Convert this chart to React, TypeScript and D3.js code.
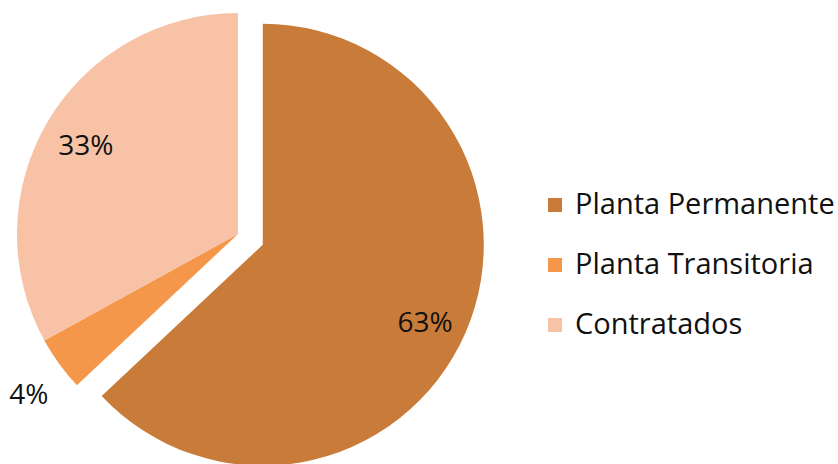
import React from "react";
import * as d3 from "d3";

const categories = ["Planta Permanente", "Planta Transitoria", "Contratados"];
const values = [63, 4, 33];
const labels = ["63%", "4%", "33%"];
const colors = ["#C97B3A", "#F5974A", "#F8C2A6"];

const W = 838;
const H = 464;
const cx = 238;
const cy = 234;
const R = 221;
const explode = [27, 0, 0];
const labelK = [0.8, 1.17, 0.8];
const labelDy = [10, 11, 4];
const FONT = "'Open Sans', sans-serif";

export default function App() {
  const pie = d3.pie<number>().sort(null).value((d) => d)(values);
  const arc = d3.arc<d3.PieArcDatum<number>>().innerRadius(0).outerRadius(R);
  return (
    <svg width={W} height={H} style={{ position: "absolute", left: 0, top: 0 }}>
      <rect width={W} height={H} fill="#fff" />
      {pie.map((p, i) => {
        const mid = (p.startAngle + p.endAngle) / 2;
        const ox = Math.sin(mid) * explode[i];
        const oy = -Math.cos(mid) * explode[i];
        return (
          <path
            key={i}
            d={arc(p) || ""}
            fill={colors[i]}
            transform={`translate(${cx + ox},${cy + oy})`}
          />
        );
      })}
      {pie.map((p, i) => {
        const mid = (p.startAngle + p.endAngle) / 2;
        const ox = Math.sin(mid) * explode[i];
        const oy = -Math.cos(mid) * explode[i];
        const k = labelK[i] * R;
        const x = cx + ox + Math.sin(mid) * k;
        const y = cy + oy - Math.cos(mid) * k + labelDy[i];
        return (
          <text
            key={i}
            x={x}
            y={y}
            textAnchor="middle"
            dominantBaseline="middle"
            fontFamily={FONT}
            fontSize={28}
            fill="#111"
          >
            {labels[i]}
          </text>
        );
      })}
      {categories.map((c, i) => (
        <g key={c} transform={`translate(548,${198 + i * 60})`}>
          <rect width={14} height={14} fill={colors[i]} />
          <text
            x={27}
            y={16}
            fontFamily={FONT}
            fontSize={29}
            fill="#111"
          >
            {c}
          </text>
        </g>
      ))}
    </svg>
  );
}
